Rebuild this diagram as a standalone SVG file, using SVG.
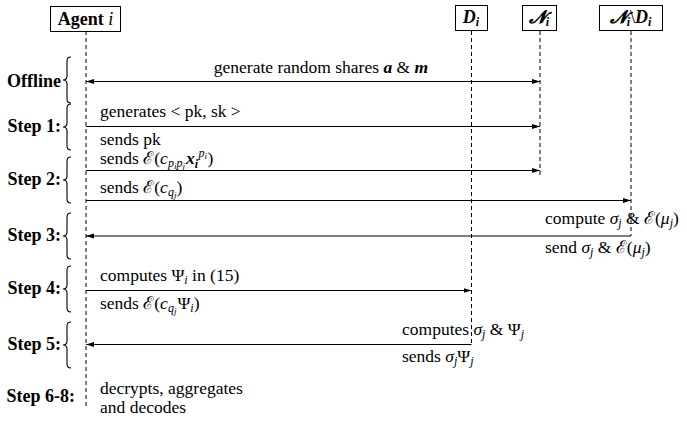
<svg xmlns="http://www.w3.org/2000/svg" width="687" height="421" viewBox="0 0 687 421">
<defs>
  <marker id="ah" viewBox="0 0 8 6" refX="8" refY="3" markerWidth="8" markerHeight="6" markerUnits="userSpaceOnUse" orient="auto-start-reverse">
    <path d="M0,0.5 L8,3 L0,5.5 z" fill="#000"/>
  </marker>
  <path id="br" fill="none" stroke="#000" stroke-width="1.1" d="M8,-23 Q4,-23 4,-19 L4,-4 Q4,0 0,0 Q4,0 4,4 L4,19 Q4,23 8,23"/>
</defs>

<g id="agent" font-family="Liberation Serif" font-size="18" fill="#000">
  <line x1="86" y1="31" x2="86" y2="408" stroke="#000" stroke-dasharray="4 3"/>
  <rect x="50.5" y="6.5" width="70" height="25" fill="#fff" stroke="#000"/>
  <text x="85.5" y="24.5" text-anchor="middle"><tspan font-weight="bold">Agent </tspan><tspan font-style="italic">i</tspan></text>
</g>
<g id="Di" font-family="Liberation Serif" font-size="18" fill="#000">
  <line x1="471.5" y1="31" x2="471.5" y2="346" stroke="#000" stroke-dasharray="4 3"/>
  <rect x="455.5" y="5.5" width="32" height="25" fill="#fff" stroke="#000"/>
  <text x="471" y="23" text-anchor="middle" font-weight="bold" font-style="italic">D<tspan font-size="12" dy="3">i</tspan></text>
</g>
<g id="Ni" font-family="Liberation Serif" font-size="18" fill="#000">
  <line x1="540" y1="31" x2="540" y2="178" stroke="#000" stroke-dasharray="4 3"/>
  <rect x="522.5" y="5.5" width="34" height="25" fill="#fff" stroke="#000"/>
  <text x="539" y="23" text-anchor="middle" font-weight="bold" font-style="italic">𝓝<tspan font-size="12" dy="3">i</tspan></text>
</g>
<g id="NiDi" font-family="Liberation Serif" font-size="18" fill="#000">
  <line x1="631" y1="31" x2="631" y2="236" stroke="#000" stroke-dasharray="4 3"/>
  <rect x="599.5" y="5.5" width="63" height="25" fill="#fff" stroke="#000"/>
  <text x="630.5" y="23" text-anchor="middle" font-weight="bold" font-style="italic">𝓝<tspan font-size="12" dy="3">i</tspan><tspan dy="-3" font-weight="normal" font-style="normal">\</tspan>D<tspan font-size="12" dy="3">i</tspan></text>
</g>

<g id="connectors" stroke="#000" stroke-width="1.1" fill="none" marker-end="url(#ah)">
  <line x1="86" y1="81.5" x2="540" y2="81.5" marker-start="url(#ah)"/>
  <line x1="86" y1="126.5" x2="540" y2="126.5"/>
  <line x1="86" y1="170.5" x2="540" y2="170.5"/>
  <line x1="86" y1="200.5" x2="631" y2="200.5"/>
  <line x1="631" y1="236" x2="86" y2="236"/>
  <line x1="86" y1="290.5" x2="471.5" y2="290.5"/>
  <line x1="471.5" y1="344.5" x2="86" y2="344.5"/>
</g>

<g id="messages" font-family="Liberation Serif" font-size="17.5" fill="#000">
  <text x="321" y="73" text-anchor="middle">generate random shares <tspan font-weight="bold" font-style="italic">a</tspan> &amp; <tspan font-weight="bold" font-style="italic">m</tspan></text>
  <text x="100" y="117">generates &lt; pk, sk &gt;</text>
  <text x="100" y="145">sends pk</text>
  <text x="100" y="164">sends ℰ(<tspan font-style="italic">c<tspan font-size="12" dy="3">p</tspan><tspan font-size="9" dy="2">i</tspan><tspan font-size="12" dy="-2">p</tspan><tspan font-size="9" dy="2">j</tspan></tspan><tspan font-weight="bold" font-style="italic" dx="1" dy="-5">x<tspan font-size="12" dy="4">i</tspan><tspan font-size="12" font-weight="normal" dx="0.5" dy="-11">p</tspan><tspan font-size="9" font-weight="normal" dy="2">i</tspan></tspan><tspan dx="0.5" dy="5">)</tspan></text>
  <text x="100" y="193">sends ℰ(<tspan font-style="italic">c<tspan font-size="12" dy="3">q</tspan><tspan font-size="9" dy="2">j</tspan></tspan><tspan dy="-5">)</tspan></text>
  <text x="545" y="224">compute <tspan font-style="italic">σ<tspan font-size="12" dy="3">j</tspan></tspan><tspan dy="-3"> &amp; ℰ(</tspan><tspan font-style="italic">μ<tspan font-size="12" dy="3">j</tspan></tspan><tspan dy="-3">)</tspan></text>
  <text x="545" y="253">send <tspan font-style="italic">σ<tspan font-size="12" dy="3">j</tspan></tspan><tspan dy="-3"> &amp; ℰ(</tspan><tspan font-style="italic">μ<tspan font-size="12" dy="3">j</tspan></tspan><tspan dy="-3">)</tspan></text>
  <text x="100" y="281">computes Ψ<tspan font-style="italic" font-size="12" dy="3">i</tspan><tspan dy="-3"> in (15)</tspan></text>
  <text x="100" y="309">sends ℰ(<tspan font-style="italic">c<tspan font-size="12" dy="3">q</tspan><tspan font-size="9" dy="2">j</tspan></tspan><tspan dx="1" dy="-5">Ψ</tspan><tspan font-style="italic" font-size="12" dy="3">i</tspan><tspan dy="-3">)</tspan></text>
  <text x="402" y="335">computes <tspan font-style="italic">σ<tspan font-size="12" dy="3">j</tspan></tspan><tspan dy="-3"> &amp; Ψ</tspan><tspan font-style="italic" font-size="12" dy="3">j</tspan></text>
  <text x="402" y="362">sends <tspan font-style="italic">σ<tspan font-size="12" dy="3">j</tspan></tspan><tspan dy="-3">Ψ</tspan><tspan font-style="italic" font-size="12" dy="3">j</tspan></text>
  <text x="100" y="394">decrypts, aggregates</text>
  <text x="100" y="413">and decodes</text>
</g>

<g id="phases" font-family="Liberation Serif" font-size="18" font-weight="bold" fill="#000">
  <text x="61" y="87" text-anchor="end">Offline</text>
  <text x="61" y="132" text-anchor="end">Step 1:</text>
  <text x="61" y="185" text-anchor="end">Step 2:</text>
  <text x="61" y="241" text-anchor="end">Step 3:</text>
  <text x="61" y="294" text-anchor="end">Step 4:</text>
  <text x="61" y="350" text-anchor="end">Step 5:</text>
  <text x="75" y="402" text-anchor="end">Step 6-8:</text>
  <use href="#br" x="63" y="80"/>
  <use href="#br" x="63" y="127"/>
  <use href="#br" x="63" y="180"/>
  <use href="#br" x="63" y="236"/>
  <use href="#br" x="63" y="289"/>
  <use href="#br" x="63" y="345"/>
</g>
</svg>
